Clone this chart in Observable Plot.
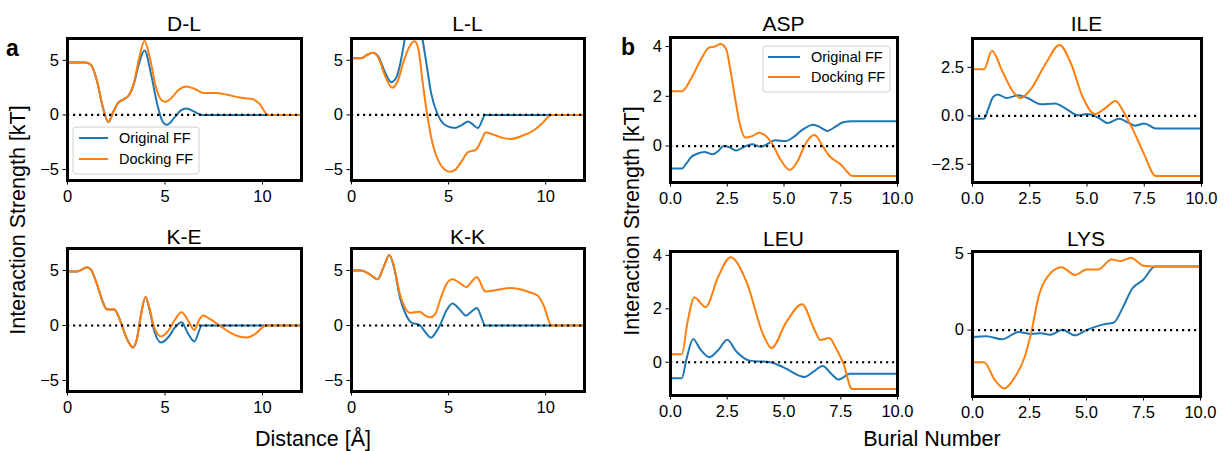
<!DOCTYPE html>
<html><head><meta charset="utf-8">
<script src="https://cdn.jsdelivr.net/npm/d3@7"></script>
<script src="https://cdn.jsdelivr.net/npm/@observablehq/plot@0.6"></script>
<style>
body{margin:0;background:#fff;}
#root{position:relative;width:1225px;height:451px;overflow:hidden;font-family:"Liberation Sans",Arial,sans-serif;}
</style></head><body><div id="root"></div>
<script>
// ---------- data ----------
const seriesNames = ["Original FF", "Docking FF"];
const distanceTicks = [0, 5, 10];
const burialTicks = [0, 2.5, 5, 7.5, 10];

// panel a (x = distance [Å])
const dlOriginal = [[0,4.8],[0.9,4.8],[1.2,4.6],[1.5,3.2],[1.8,0.8],[2.1,-0.65],[2.35,0.3],[2.6,1.1],[2.9,1.45],[3.15,1.8],[3.4,2.8],[3.65,4.6],[3.95,5.9],[4.3,3.6],[4.6,1.0],[4.85,-0.5],[5.1,-0.9],[5.5,-0.2],[5.8,0.4],[6.1,0.6],[6.5,0.3],[6.9,0],[12,0]];
const dlDocking  = [[0,4.8],[0.9,4.8],[1.2,4.6],[1.5,3.2],[1.8,0.8],[2.1,-0.65],[2.35,0.3],[2.6,1.1],[2.9,1.45],[3.15,1.8],[3.4,2.9],[3.65,5.0],[3.95,6.8],[4.25,5.0],[4.5,2.8],[4.8,1.4],[5.0,1.2],[5.3,1.5],[5.7,2.3],[6.1,2.6],[6.5,2.4],[7.0,2.0],[7.6,2.0],[8.2,1.85],[8.8,1.6],[9.5,1.45],[9.8,1.1],[10.3,0],[12,0]];
const llOriginal = [[0,5.2],[0.5,5.2],[0.8,5.5],[1.1,5.7],[1.4,5.3],[1.7,4.0],[2.05,3.0],[2.35,3.6],[2.6,5.5],[2.8,7.5],[3.2,9.5],[3.5,8.3],[3.65,7],[3.85,4.8],[4.1,2.0],[4.45,0],[4.8,-0.9],[5.3,-1.2],[5.7,-0.9],[6.0,-0.6],[6.2,-0.8],[6.5,-1.2],[6.9,0],[12,0]];
const llDocking  = [[0,5.2],[0.5,5.2],[0.8,5.5],[1.1,5.7],[1.4,5.2],[1.7,3.7],[2.1,2.5],[2.4,3.2],[2.7,5.0],[3.0,6.3],[3.25,6.75],[3.45,6.0],[3.65,3.2],[3.9,0],[4.2,-2.8],[4.5,-4.3],[4.8,-5.0],[5.05,-5.2],[5.35,-5.0],[5.65,-4.3],[6.0,-3.4],[6.4,-3.2],[6.7,-2.3],[6.9,-1.6],[7.3,-1.8],[7.8,-2.1],[8.2,-2.2],[8.8,-1.9],[9.4,-1.4],[9.8,-0.8],[10.3,0],[12,0]];
const keOriginal = [[0,4.9],[0.5,4.9],[0.8,5.15],[1.0,5.3],[1.2,5.1],[1.5,3.8],[1.8,2.2],[2.0,1.5],[2.2,1.45],[2.4,1.45],[2.6,0.9],[2.85,-0.3],[3.1,-1.4],[3.35,-2.0],[3.55,-1.3],[3.75,0.8],[4.0,2.6],[4.2,1.5],[4.45,-0.5],[4.8,-1.55],[5.2,-1.0],[5.5,-0.2],[5.85,0.3],[6.2,-0.8],[6.5,-1.45],[6.9,0],[12,0]];
const keDocking  = [[0,4.9],[0.5,4.9],[0.8,5.15],[1.0,5.3],[1.2,5.1],[1.5,3.8],[1.8,2.2],[2.0,1.5],[2.2,1.45],[2.4,1.45],[2.6,0.9],[2.85,-0.3],[3.1,-1.4],[3.35,-2.0],[3.55,-1.3],[3.75,0.8],[4.0,2.6],[4.2,1.6],[4.45,-0.2],[4.8,-1.0],[5.2,-0.4],[5.5,0.5],[5.85,1.2],[6.2,0.4],[6.5,-0.4],[6.75,0.5],[6.95,0.9],[7.3,0.6],[7.8,0],[8.3,-0.6],[8.8,-1.0],[9.2,-1.1],[9.6,-0.8],[10.2,0],[12,0]];
const kkOriginal = [[0,5.0],[0.5,5.0],[0.9,4.7],[1.35,4.2],[1.65,5.3],[1.95,6.4],[2.2,5.2],[2.5,2.5],[2.8,1.0],[3.1,0.25],[3.5,0.05],[3.8,-0.6],[4.1,-1.1],[4.35,-0.6],[4.55,0],[4.9,1.4],[5.2,2.0],[5.55,1.5],[5.9,0.9],[6.2,1.3],[6.45,1.6],[6.9,0],[12,0]];
const kkDocking  = [[0,5.0],[0.5,5.0],[0.9,4.7],[1.35,4.2],[1.65,5.3],[1.95,6.4],[2.2,5.3],[2.5,2.8],[2.8,1.5],[3.0,1.15],[3.5,1.25],[3.8,0.9],[4.05,0.75],[4.3,1.0],[4.6,2.5],[4.9,3.8],[5.2,4.2],[5.55,3.9],[5.9,3.5],[6.2,4.0],[6.45,4.4],[6.9,3.1],[7.4,3.2],[8.2,3.4],[8.8,3.25],[9.2,3.0],[9.6,2.7],[9.9,1.8],[10.3,0],[12,0]];

// panel b (x = burial number)
const aspOriginal = [[0,-0.9],[0.5,-0.9],[0.7,-0.7],[0.9,-0.45],[1.2,-0.3],[1.5,-0.24],[1.85,-0.33],[2.1,-0.2],[2.35,0],[2.6,-0.05],[2.9,-0.18],[3.2,-0.05],[3.6,0.07],[4.0,-0.03],[4.3,0.1],[4.6,0.23],[5.1,0.2],[5.4,0.35],[5.8,0.65],[6.3,0.86],[6.6,0.75],[6.9,0.61],[7.3,0.8],[7.6,0.96],[8.0,1.0],[10,1.0]];
const aspDocking  = [[0,2.2],[0.5,2.2],[0.9,2.7],[1.35,3.5],[1.7,3.96],[1.95,4.0],[2.2,4.1],[2.45,3.9],[2.65,3.0],[2.85,1.9],[3.05,0.9],[3.3,0.34],[3.6,0.4],[3.9,0.54],[4.2,0.4],[4.5,0.05],[4.85,-0.55],[5.25,-0.96],[5.6,-0.6],[5.9,0.0],[6.1,0.3],[6.35,0.44],[6.7,0.0],[7.0,-0.4],[7.5,-0.74],[7.75,-1.0],[8.0,-1.2],[10,-1.2]];
const ileOriginal = [[0,-0.15],[0.5,-0.15],[0.7,0.4],[0.9,0.97],[1.1,1.1],[1.5,0.92],[2.0,1.06],[2.4,0.92],[3.0,0.6],[3.6,0.63],[4.1,0.35],[4.6,0.03],[5.0,0.09],[5.5,-0.1],[5.9,-0.37],[6.4,-0.15],[6.8,-0.35],[7.1,-0.51],[7.5,-0.39],[8.0,-0.65],[10,-0.65]];
const ileDocking  = [[0,2.4],[0.5,2.4],[0.85,3.36],[1.3,2.3],[1.8,1.2],[2.1,0.92],[2.5,1.3],[3.2,2.7],[3.8,3.66],[4.3,2.7],[4.8,1.0],[5.35,0.09],[5.8,0.4],[6.25,0.77],[6.6,0.2],[7.0,-0.7],[7.5,-2.0],[8.0,-3.1],[10,-3.1]];
const leuOriginal = [[0,-0.6],[0.5,-0.6],[0.7,0.1],[1.0,0.87],[1.3,0.5],[1.7,0.19],[2.1,0.45],[2.5,0.84],[2.9,0.4],[3.5,0.06],[4.4,0.0],[5.0,-0.2],[5.9,-0.55],[6.3,-0.35],[6.7,-0.14],[7.1,-0.45],[7.4,-0.65],[7.9,-0.43],[10,-0.43]];
const leuDocking  = [[0,0.3],[0.5,0.3],[0.75,1.5],[1.05,2.42],[1.55,2.07],[2.1,3.2],[2.65,3.93],[3.35,3.0],[4.1,1.0],[4.45,0.53],[5.1,1.5],[5.8,2.17],[6.3,1.3],[6.6,0.83],[7.0,0.91],[7.3,0.5],[7.6,0],[8.0,-1.0],[10,-1.0]];
const lysOriginal = [[0,-0.45],[0.6,-0.4],[1.3,-0.6],[2.0,-0.13],[2.6,-0.25],[3.0,-0.2],[3.4,-0.3],[3.95,0.02],[4.5,-0.34],[5.0,0.0],[5.7,0.36],[6.2,0.5],[6.6,1.5],[7.0,2.7],[7.5,3.3],[8.0,4.15],[10,4.15]];
const lysDocking  = [[0,-2.1],[0.5,-2.1],[1.0,-3.3],[1.4,-3.8],[1.8,-3.2],[2.3,-1.7],[2.6,0],[2.9,2.2],[3.3,3.5],[3.9,4.1],[4.5,3.6],[5.0,3.95],[5.5,3.95],[6.1,4.6],[6.5,4.5],[6.95,4.72],[7.5,4.2],[8.0,4.15],[10,4.15]];

// ---------- layout ----------
const colors = ["#1f77b4", "#ff7f0e"];
const FONT = '"Liberation Sans", Arial, sans-serif';
const fmtInt = d3.format("d"), fmt1 = d3.format(".1f");
const panels = [
  {title:"D-L", data:[dlOriginal, dlDocking], xd:[0,12], xt:distanceTicks, xf:fmtInt, yd:[-6,7], yt:[-5,0,5], yf:fmtInt, box:[67,301,38,180]},
  {title:"L-L", data:[llOriginal, llDocking], xd:[0,12], xt:distanceTicks, xf:fmtInt, yd:[-6,7], yt:[-5,0,5], yf:fmtInt, box:[351,584,38,180]},
  {title:"K-E", data:[keOriginal, keDocking], xd:[0,12], xt:distanceTicks, xf:fmtInt, yd:[-6,7], yt:[-5,0,5], yf:fmtInt, box:[67,301,248,391]},
  {title:"K-K", data:[kkOriginal, kkDocking], xd:[0,12], xt:distanceTicks, xf:fmtInt, yd:[-6,7], yt:[-5,0,5], yf:fmtInt, box:[351,584,248,391]},
  {title:"ASP", data:[aspOriginal, aspDocking], xd:[0,10], xt:burialTicks, xf:fmt1, yd:[-1.465,4.365], yt:[0,2,4], yf:fmtInt, box:[670,897,37,182]},
  {title:"ILE", data:[ileOriginal, ileDocking], xd:[0,10], xt:burialTicks, xf:fmt1, yd:[-3.44,3.99], yt:[-2.5,0,2.5], yf:fmt1, box:[972,1201,38,182]},
  {title:"LEU", data:[leuOriginal, leuDocking], xd:[0,10], xt:burialTicks, xf:fmt1, yd:[-1.245,4.145], yt:[0,2,4], yf:fmtInt, box:[670,897,251,395]},
  {title:"LYS", data:[lysOriginal, lysDocking], xd:[0,10], xt:burialTicks, xf:fmt1, yd:[-4.33,5.13], yt:[0,5], yf:fmtInt, box:[972,1200,251,396]}
];

const root = document.getElementById("root");
const ml = 56, mr = 8, mt = 8, mb = 32;
for (const p of panels) {
  const [x0, x1, y0, y1] = p.box;
  const svg = Plot.plot({
    width: (x1 - x0) + ml + mr, height: (y1 - y0) + mt + mb,
    marginLeft: ml, marginRight: mr, marginTop: mt, marginBottom: mb,
    style: {fontFamily: FONT, fontSize: "16.5px", color: "#000", background: "transparent", overflow: "visible"},
    x: {domain: p.xd, ticks: p.xt, tickFormat: p.xf, tickSize: 4.5, tickPadding: 5.5, label: null},
    y: {domain: p.yd, ticks: p.yt, tickFormat: p.yf, tickSize: 4.5, tickPadding: 4, label: null},
    marks: [
      ...p.data.map((s, i) => Plot.line(s, {x: d => d[0], y: d => d[1], stroke: colors[i], strokeWidth: 2, curve: "monotone-x", clip: true})),
      Plot.ruleY([0], {stroke: "#000", strokeWidth: 2.2, strokeDasharray: "2.2,3.8"}),
      Plot.frame({stroke: "#000", strokeWidth: 3})
    ]
  });
  svg.style.position = "absolute";
  svg.style.left = (x0 - ml) + "px";
  svg.style.top = (y0 - mt) + "px";
  root.appendChild(svg);
  p.cx = (x0 + x1) / 2;
}

// ---------- annotation overlay ----------
const ov = d3.select(root).append("svg")
  .attr("width", 1225).attr("height", 451)
  .style("position", "absolute").style("left", 0).style("top", 0)
  .style("font-family", FONT);

const titleBase = [31, 31, 244, 244, 31, 31, 246, 246];
panels.forEach((p, i) => {
  ov.append("text").attr("x", p.cx).attr("y", titleBase[i]).attr("text-anchor", "middle")
    .attr("font-size", 21).text(p.title);
});
ov.append("text").attr("x", 6).attr("y", 56).attr("font-size", 23).attr("font-weight", "bold").text("a");
ov.append("text").attr("x", 621).attr("y", 55).attr("font-size", 23).attr("font-weight", "bold").text("b");
ov.append("text").attr("transform", "translate(25,220) rotate(-90)").attr("text-anchor", "middle").attr("font-size", 21.5).text("Interaction Strength [kT]");
ov.append("text").attr("transform", "translate(639,221) rotate(-90)").attr("text-anchor", "middle").attr("font-size", 21.5).text("Interaction Strength [kT]");
ov.append("text").attr("x", 313).attr("y", 446).attr("text-anchor", "middle").attr("font-size", 21.5).text("Distance [Å]");
ov.append("text").attr("x", 932).attr("y", 446).attr("text-anchor", "middle").attr("font-size", 21.5).text("Burial Number");

function legend(x, y, w, h, rowY, lineX0, lineX1, textX) {
  ov.append("rect").attr("x", x).attr("y", y).attr("width", w).attr("height", h).attr("rx", 3)
    .attr("fill", "rgba(255,255,255,0.8)").attr("stroke", "#d0d0d0").attr("stroke-width", 1);
  seriesNames.forEach((n, i) => {
    ov.append("line").attr("x1", lineX0).attr("x2", lineX1).attr("y1", rowY[i]).attr("y2", rowY[i])
      .attr("stroke", colors[i]).attr("stroke-width", 2);
    ov.append("text").attr("x", textX).attr("y", rowY[i] + 5).attr("font-size", 14.5).text(n);
  });
}
legend(73, 127, 126, 47, [138, 159], 79, 108, 119);
legend(763, 46, 127, 46, [57, 77], 768, 800, 811);
</script></body></html>
